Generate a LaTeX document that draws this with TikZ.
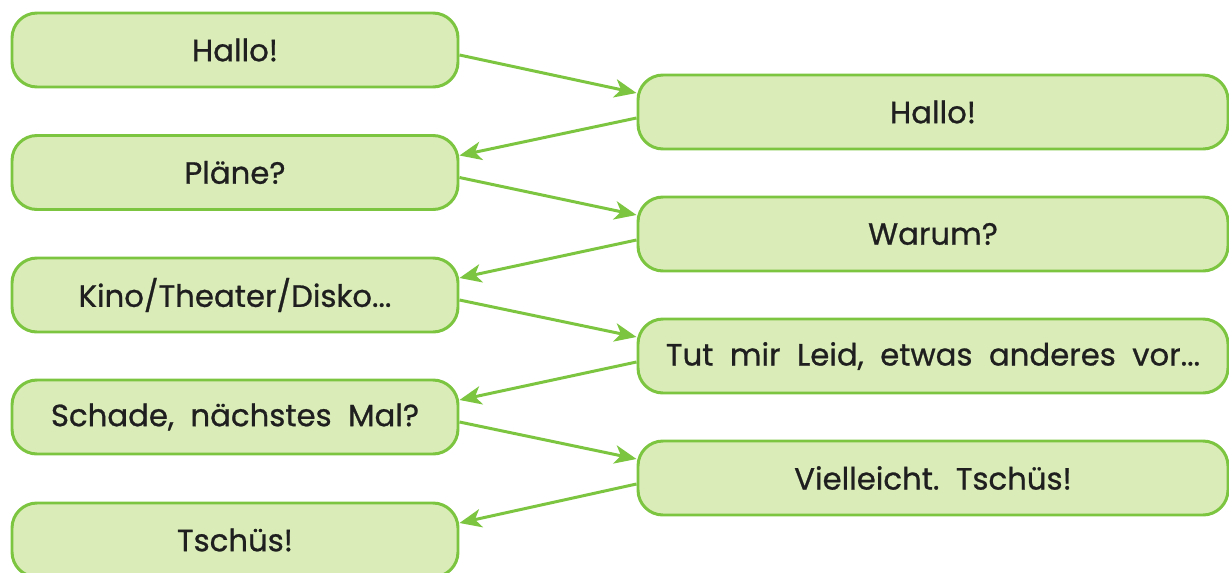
\documentclass[tikz,border=0pt]{standalone}
\usepackage{fontspec}
\setmainfont{Poppins}[FakeBold=0.8]
\usetikzlibrary{arrows.meta}
\definecolor{boxgreen}{HTML}{DAEDB8}
\definecolor{linegreen}{HTML}{7CC540}
\tikzset{
	talk/.style={draw=linegreen, fill=boxgreen, line width=1.7pt, rounded corners=0.5cm, minimum height=1.48cm, align=center, font=\fontsize{17.5}{19}\selectfont, text=black!88},
	ltalk/.style={talk, minimum width=8.92cm},
	rtalk/.style={talk, minimum width=11.8cm},
	reply/.style={draw=linegreen, line width=1.7pt, -{Stealth[length=12.5pt, width=10.5pt, inset=3.5pt]}}
}
\begin{document}
\begin{tikzpicture}
	\useasboundingbox (0,0) rectangle (24.58,-11.46);
	\node [ltalk] (hallo) at (4.7,-1.0) {Hallo!};
	\node [ltalk] (plaene) at (4.7,-3.45) {Pläne?};
	\node [ltalk] (kino) at (4.7,-5.9) {Kino/Theater/Disko...};
	\node [ltalk] (schade) at (4.7,-8.34) {Schade,\ \ nächstes\ \ Mal?};
	\node [ltalk] (tschues) at (4.7,-10.8) {Tschüs!};
	\node [rtalk] (halloB) at (18.66,-2.24) {Hallo!};
	\node [rtalk] (warum) at (18.66,-4.68) {Warum?};
	\node [rtalk] (leid) at (18.66,-7.12) {Tut\ \ mir\ \ Leid,\ \ etwas\ \ anderes\ \ vor...};
	\node [rtalk] (tschuesB) at (18.66,-9.56) {Vielleicht.\ \ Tschüs!};
	\draw [reply] ([yshift=-0.1cm]hallo.east) -- ([yshift=0.38cm]halloB.west);
	\draw [reply] ([yshift=-0.12cm]halloB.west) -- ([yshift=0.34cm]plaene.east);
	\draw [reply] ([yshift=-0.1cm]plaene.east) -- ([yshift=0.38cm]warum.west);
	\draw [reply] ([yshift=-0.12cm]warum.west) -- ([yshift=0.34cm]kino.east);
	\draw [reply] ([yshift=-0.1cm]kino.east) -- ([yshift=0.38cm]leid.west);
	\draw [reply] ([yshift=-0.12cm]leid.west) -- ([yshift=0.34cm]schade.east);
	\draw [reply] ([yshift=-0.1cm]schade.east) -- ([yshift=0.38cm]tschuesB.west);
	\draw [reply] ([yshift=-0.12cm]tschuesB.west) -- ([yshift=0.34cm]tschues.east);
\end{tikzpicture}
\end{document}
